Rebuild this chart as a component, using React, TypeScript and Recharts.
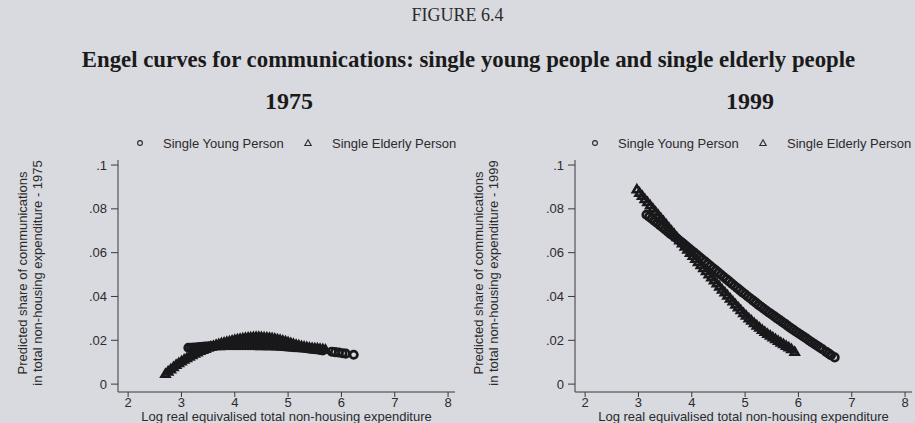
import React from 'react';
import { ScatterChart, Scatter, XAxis, YAxis, Legend, Label } from 'recharts';

// tick values shared by both panels
const xTicks = [2, 3, 4, 5, 6, 7, 8];
const yTicks = [0, 0.02, 0.04, 0.06, 0.08, 0.1];

// 1975 panel: [log expenditure, predicted share]
const young1975: [number, number][] = [
  [3.13, 0.0166], [3.18, 0.0166], [3.23, 0.0167], [3.3, 0.0168], [3.35, 0.0169], [3.4, 0.017],
  [3.45, 0.0171], [3.5, 0.0172], [3.55, 0.0173], [3.6, 0.0174], [3.65, 0.0175], [3.7, 0.0176],
  [3.75, 0.0177], [3.8, 0.0177], [3.85, 0.0178], [3.9, 0.0178], [3.95, 0.0178], [4.0, 0.0178],
  [4.05, 0.0178], [4.1, 0.0178], [4.15, 0.0178], [4.2, 0.0178], [4.25, 0.0178], [4.3, 0.0178],
  [4.35, 0.0178], [4.4, 0.0177], [4.45, 0.0177], [4.5, 0.0177], [4.55, 0.0176], [4.6, 0.0176],
  [4.65, 0.0176], [4.7, 0.0175], [4.75, 0.0175], [4.8, 0.0174], [4.85, 0.0174], [4.9, 0.0173],
  [4.95, 0.0172], [5.0, 0.0171], [5.05, 0.017], [5.1, 0.0169], [5.15, 0.0168], [5.2, 0.0167],
  [5.25, 0.0166], [5.3, 0.0165], [5.35, 0.0164], [5.4, 0.0162], [5.45, 0.0161], [5.5, 0.0159],
  [5.55, 0.0158], [5.6, 0.0156], [5.65, 0.0154], [5.82, 0.0148], [5.88, 0.0146], [5.95, 0.0144],
  [6.02, 0.0141], [6.08, 0.0139], [6.23, 0.0134],
];
const elderly1975: [number, number][] = [
  [2.7, 0.0044], [2.75, 0.0055], [2.8, 0.0065], [2.85, 0.0075], [2.9, 0.0085], [2.95, 0.0093],
  [3.0, 0.0101], [3.05, 0.0109], [3.1, 0.0116], [3.15, 0.0123], [3.2, 0.013], [3.25, 0.0137],
  [3.3, 0.0143], [3.35, 0.0149], [3.4, 0.0154], [3.45, 0.0159], [3.5, 0.0164], [3.55, 0.0168],
  [3.6, 0.0172], [3.65, 0.0176], [3.7, 0.018], [3.75, 0.0184], [3.8, 0.0187], [3.85, 0.019],
  [3.9, 0.0193], [3.95, 0.0196], [4.0, 0.0199], [4.05, 0.0202], [4.1, 0.0204], [4.15, 0.0206],
  [4.2, 0.0208], [4.25, 0.021], [4.3, 0.0211], [4.35, 0.0212], [4.4, 0.0213], [4.45, 0.0213],
  [4.5, 0.0212], [4.55, 0.0211], [4.6, 0.021], [4.65, 0.0209], [4.7, 0.0207], [4.75, 0.0205],
  [4.8, 0.0202], [4.85, 0.0199], [4.9, 0.0196], [4.95, 0.0193], [5.0, 0.0189], [5.05, 0.0185],
  [5.1, 0.0181], [5.15, 0.0177], [5.2, 0.0174], [5.25, 0.0171], [5.3, 0.0168], [5.35, 0.0166],
  [5.4, 0.0164], [5.45, 0.0162], [5.5, 0.0161], [5.55, 0.016], [5.6, 0.0158], [5.65, 0.0157],
  [5.7, 0.0155],
];

// 1999 panel
const young1999: [number, number][] = [
  [3.15, 0.0773], [3.2, 0.0764], [3.25, 0.0755], [3.3, 0.0745], [3.35, 0.0736], [3.4, 0.0726],
  [3.45, 0.0716], [3.5, 0.0706], [3.55, 0.0696], [3.6, 0.0686], [3.65, 0.0677], [3.7, 0.0668],
  [3.75, 0.0659], [3.8, 0.0649], [3.85, 0.0639], [3.9, 0.0629], [3.95, 0.0619], [4.0, 0.0609],
  [4.05, 0.0599], [4.1, 0.0589], [4.15, 0.0579], [4.2, 0.0569], [4.25, 0.0559], [4.3, 0.0549],
  [4.35, 0.0539], [4.4, 0.0529], [4.45, 0.0519], [4.5, 0.0509], [4.55, 0.0499], [4.6, 0.0489],
  [4.65, 0.0479], [4.7, 0.0469], [4.75, 0.0459], [4.8, 0.0449], [4.85, 0.0439], [4.9, 0.0429],
  [4.95, 0.0419], [5.0, 0.041], [5.05, 0.04], [5.1, 0.0391], [5.15, 0.0381], [5.2, 0.0372],
  [5.25, 0.0362], [5.3, 0.0353], [5.35, 0.0344], [5.4, 0.0335], [5.45, 0.0326], [5.5, 0.0318],
  [5.55, 0.0309], [5.6, 0.03], [5.65, 0.0292], [5.7, 0.0283], [5.75, 0.0275], [5.8, 0.0266],
  [5.85, 0.0257], [5.9, 0.0249], [5.95, 0.024], [6.0, 0.0232], [6.05, 0.0224], [6.1, 0.0216],
  [6.15, 0.0208], [6.2, 0.0199], [6.25, 0.0191], [6.3, 0.0183], [6.35, 0.0175], [6.4, 0.0167],
  [6.45, 0.0159], [6.52, 0.0147], [6.57, 0.0139], [6.61, 0.0132], [6.68, 0.0122],
];
const elderly1999: [number, number][] = [
  [2.97, 0.0886], [3.02, 0.0871], [3.07, 0.0857], [3.12, 0.0842], [3.17, 0.0828], [3.22, 0.0813],
  [3.27, 0.0799], [3.32, 0.0784], [3.37, 0.077], [3.42, 0.0755], [3.47, 0.0741], [3.52, 0.0726],
  [3.57, 0.0712], [3.62, 0.0697], [3.67, 0.0683], [3.72, 0.0668], [3.77, 0.0654], [3.82, 0.064],
  [3.87, 0.0625], [3.92, 0.0611], [3.97, 0.0597], [4.02, 0.0583], [4.07, 0.0569], [4.12, 0.0555],
  [4.17, 0.0541], [4.22, 0.0527], [4.27, 0.0513], [4.32, 0.0499], [4.37, 0.0485], [4.42, 0.0471],
  [4.47, 0.0457], [4.52, 0.0443], [4.57, 0.0429], [4.62, 0.0416], [4.67, 0.0402], [4.72, 0.0388],
  [4.77, 0.0375], [4.82, 0.0361], [4.87, 0.0348], [4.92, 0.0335], [4.97, 0.0322], [5.02, 0.031],
  [5.07, 0.0298], [5.12, 0.0287], [5.17, 0.0276], [5.22, 0.0265], [5.27, 0.0255], [5.32, 0.0245],
  [5.37, 0.0236], [5.42, 0.0227], [5.47, 0.0219], [5.52, 0.0211], [5.57, 0.0203], [5.62, 0.0195],
  [5.67, 0.0187], [5.72, 0.018], [5.77, 0.0172], [5.82, 0.0165], [5.87, 0.0157], [5.93, 0.0145],
];

const BG = '#d9d9e0';
const INK = '#19191b';
const TXT = '#2b2b2b';
const SANS = '"Liberation Sans", Arial, Helvetica, sans-serif';
const SERIF = '"Liberation Serif", "Times New Roman", serif';

const toPts = (rows: [number, number][]) => rows.map(([x, y]) => ({ x, y }));

const Ring = (p: any) => (
  <circle cx={p.cx} cy={p.cy} r={3.7} fill="none" stroke={INK} strokeWidth={2.7} />
);

const Tri = (p: any) => {
  const r = 4.6;
  return (
    <path
      d={`M${p.cx},${p.cy - r}L${p.cx + r * 0.87},${p.cy + r * 0.5}L${p.cx - r * 0.87},${p.cy + r * 0.5}Z`}
      fill="none"
      stroke={INK}
      strokeWidth={2.6}
    />
  );
};

function LegendBox() {
  return (
    <svg width={340} height={20} style={{ display: 'block' }}>
      <circle cx={10} cy={10} r={2.4} fill="none" stroke={TXT} strokeWidth={1.1} />
      <text x={33} y={14.5} fontSize={13} fontFamily={SANS} fill={TXT}>Single Young Person</text>
      <path d="M178,6.8L181.2,12.5L174.8,12.5Z" fill="none" stroke={TXT} strokeWidth={1.1} />
      <text x={202} y={14.5} fontSize={13} fontFamily={SANS} fill={TXT}>Single Elderly Person</text>
    </svg>
  );
}

const fmtY = (v: number) => (v === 0 ? '0' : String(v).replace(/^0/, ''));

interface PanelProps {
  year: string;
  young: [number, number][];
  elderly: [number, number][];
  width: number;
  axisW: number;
  legendLeft: number;
  labX: [number, number];
}

function Panel({ year, young, elderly, width, axisW, legendLeft, labX }: PanelProps) {
  const tick = { fontSize: 13, fontFamily: SANS, fill: TXT };
  return (
    <ScatterChart width={width} height={298} margin={{ top: 15, right: width - axisW - 337, bottom: 0, left: 0 }}>
      <Legend
        verticalAlign="top"
        content={() => <LegendBox />}
        wrapperStyle={{ top: 8, left: legendLeft, width: 340, height: 20 }}
      />
      <XAxis
        type="number"
        dataKey="x"
        domain={[1.81, 8.13]}
        ticks={xTicks}
        height={31}
        tickSize={5}
        tickMargin={1}
        tick={tick}
        stroke="#3a3a3a"
      >
        <Label
          content={(p: any) => (
            <text
              x={p.viewBox.x + p.viewBox.width / 2}
              y={p.viewBox.y + 28.5}
              textAnchor="middle"
              fontSize={13}
              fontFamily={SANS}
              fill={TXT}
            >
              Log real equivalised total non-housing expenditure
            </text>
          )}
        />
      </XAxis>
      <YAxis
        type="number"
        dataKey="y"
        domain={[-0.0036, 0.1023]}
        ticks={yTicks}
        width={axisW}
        tickSize={7}
        tickMargin={4}
        tick={tick}
        tickFormatter={fmtY}
        stroke="#3a3a3a"
      >
        <Label
          content={() => (
            <g fontSize={13} fontFamily={SANS} fill={TXT}>
              <text transform={`translate(${labX[0]},148) rotate(-90)`} textAnchor="middle" dominantBaseline="central">
                Predicted share of communications
              </text>
              <text transform={`translate(${labX[1]},148) rotate(-90)`} textAnchor="middle" dominantBaseline="central">
                {`in total non-housing expenditure - ${year}`}
              </text>
            </g>
          )}
        />
      </YAxis>
      <Scatter name="Single Young Person" data={toPts(young)} shape={Ring} isAnimationActive={false} />
      <Scatter name="Single Elderly Person" data={toPts(elderly)} shape={Tri} isAnimationActive={false} />
    </ScatterChart>
  );
}

export default function App() {
  const head = { position: 'absolute' as const, textAlign: 'center' as const, fontFamily: SERIF, color: '#1a1a1a' };
  return (
    <div style={{ position: 'absolute', left: 0, top: 0, width: 915, height: 423, background: BG, overflow: 'hidden' }}>
      <div style={{ ...head, top: 5, left: 0, width: 915, fontSize: 18, color: TXT }}>
        FIGURE 6.4
      </div>
      <div style={{ ...head, top: 47, left: 0, width: 937, fontSize: 22.8, fontWeight: 'bold', whiteSpace: 'nowrap' }}>
        Engel curves for communications: single young people and single elderly people
      </div>
      <div style={{ ...head, top: 88, left: 239, width: 100, fontSize: 24, fontWeight: 'bold' }}>
        1975
      </div>
      <div style={{ ...head, top: 88, left: 700, width: 100, fontSize: 24, fontWeight: 'bold' }}>
        1999
      </div>
      <div style={{ position: 'absolute', top: 125, left: 0 }}>
        <Panel year="1975" young={young1975} elderly={elderly1975} width={460} axisW={118} legendLeft={130} labX={[22, 37]} />
      </div>
      <div style={{ position: 'absolute', top: 125, left: 460 }}>
        <Panel year="1999" young={young1999} elderly={elderly1999} width={455} axisW={115} legendLeft={125} labX={[18, 33]} />
      </div>
    </div>
  );
}
